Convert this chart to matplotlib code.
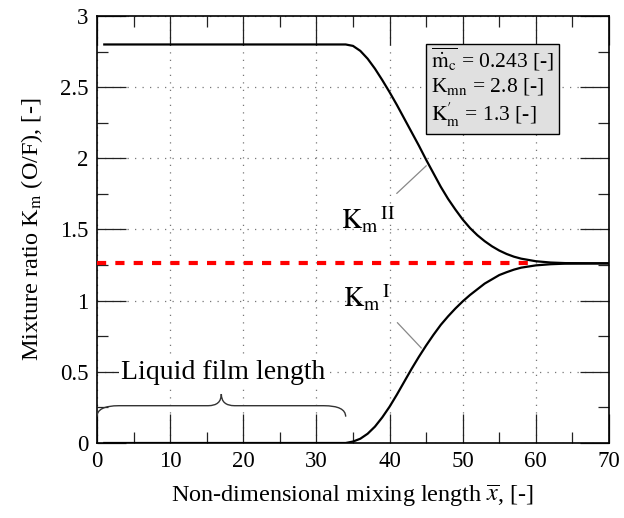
import numpy as np
import matplotlib
matplotlib.use("Agg")
import matplotlib.pyplot as plt
from matplotlib.path import Path
from matplotlib.patches import PathPatch

plt.rcParams['font.family'] = ['Liberation Serif', 'DejaVu Serif']
plt.rcParams['mathtext.fontset'] = 'stix'

# Km^II : mixture ratio from the upper branch
x_upper = [1, 34, 35, 36, 37, 38, 39, 40, 41, 42, 43, 44, 45, 46, 47, 48, 49, 50,
           51, 52, 53, 54, 55, 56, 57, 58, 60, 62, 64, 70]
km_upper = [2.80, 2.80, 2.79, 2.755, 2.70, 2.63, 2.55, 2.465, 2.375, 2.28, 2.185,
            2.09, 1.99, 1.895, 1.80, 1.715, 1.64, 1.57, 1.51, 1.46, 1.418, 1.382,
            1.352, 1.328, 1.309, 1.295, 1.277, 1.268, 1.264, 1.262]

# Km^I : mixture ratio from the lower branch
x_lower = [1, 34, 35, 36, 37, 38, 39, 40, 41, 42, 43, 44, 45, 46, 47, 48, 49, 50,
           51, 52, 53, 54, 55, 56, 57, 58, 60, 62, 64, 70]
km_lower = [0.0, 0.0, 0.01, 0.03, 0.065, 0.115, 0.18, 0.255, 0.34, 0.43, 0.52,
            0.605, 0.685, 0.76, 0.83, 0.89, 0.945, 0.995, 1.04, 1.08, 1.12, 1.15,
            1.18, 1.20, 1.218, 1.232, 1.248, 1.256, 1.260, 1.262]

# equilibrium mixture ratio (red dashed)
x_eq = [0, 60]
km_eq = [1.262, 1.262]

film_start, film_end = 0, 34

fig = plt.figure(figsize=(6.24, 5.18), dpi=100)
ax = fig.add_axes([0.1554, 0.1448, 0.8206, 0.8243])

ax.plot(x_eq, km_eq, color='red', lw=3, dashes=(2.2, 2.2), zorder=3)
ax.plot(x_upper, km_upper, color='black', lw=1.6, zorder=4, solid_joinstyle='round')
ax.plot(x_lower, km_lower, color='black', lw=1.6, zorder=4, solid_joinstyle='round')

ax.set_xlim(0, 70)
ax.set_ylim(0, 3)
ax.set_xticks(np.arange(0, 71, 10))
ax.set_xticks(np.arange(0, 71, 5), minor=True)
ax.set_yticks(np.arange(0, 3.01, 0.5))
ax.set_yticks(np.arange(0, 3.01, 0.25), minor=True)
ax.set_yticklabels(['0', '0.5', '1', '1.5', '2', '2.5', '3'])
ax.grid(True, which='major', color='#777777', lw=0.9, linestyle=(0, (1, 5)))
ax.tick_params(which='both', direction='in', top=True, right=True,
               labelsize=16.5, width=0.9, color='#222222', pad=6)
ax.tick_params(which='major', length=21)
ax.tick_params(which='minor', length=8)
for sp in ax.spines.values():
    sp.set_linewidth(1.2)

ax.set_xlabel(r'Non-dimensional mixing length $\overline{x}$, [-]', fontsize=17.5, labelpad=8)
ax.set_ylabel(r'Mixture ratio K$_\mathrm{m}$ (O/F), [-]', fontsize=17.5, labelpad=11)

# leader lines and branch labels
ax.annotate('', xy=(45.3, np.interp(45.3, x_upper, km_upper)), xytext=(40.7, 1.74),
            arrowprops=dict(arrowstyle='-', color='#888888', lw=0.9))
ax.text(33.4, 1.50, r'$\mathrm{K_m}^{\,\mathrm{II}}$', fontsize=20, va='baseline')
ax.annotate('', xy=(44.6, np.interp(44.6, x_lower, km_lower)), xytext=(40.8, 0.86),
            arrowprops=dict(arrowstyle='-', color='#888888', lw=0.9))
ax.text(33.6, 0.955, r'$\mathrm{K_m}^{\,\mathrm{I}}$', fontsize=20, va='baseline')

# curly brace for the liquid film
yb, d, tip = 0.262, 0.077, 0.082
xm = 0.5 * (film_start + film_end)
verts = [(film_start, yb - d), (film_start, yb), (film_start + 3, yb),
         (xm - 1.8, yb), (xm, yb), (xm, yb + tip),
         (xm, yb), (xm + 1.8, yb),
         (film_end - 3, yb), (film_end, yb), (film_end, yb - d)]
codes = [Path.MOVETO, Path.CURVE3, Path.CURVE3,
         Path.LINETO, Path.CURVE3, Path.CURVE3,
         Path.CURVE3, Path.CURVE3,
         Path.LINETO, Path.CURVE3, Path.CURVE3]
ax.add_patch(PathPatch(Path(verts, codes), fc='none', ec='#333333', lw=1.0, zorder=5))
ax.text(xm + 0.2, 0.448, 'Liquid film length', fontsize=20, ha='center', va='baseline',
        bbox=dict(fc='white', ec='none', pad=1))

box_text = (r'$\overline{\dot{\mathrm{m}}_\mathrm{c}}$ = 0.243 [-]' + '\n'
            + r'K$_\mathrm{mn}$ = 2.8 [-]' + '\n'
            + r'$\mathrm{K}^{\prime}_\mathrm{m}$ = 1.3 [-]')
ax.text(0.652, 0.93, box_text, transform=ax.transAxes, fontsize=15.5,
        va='top', ha='left', linespacing=1.2, zorder=6,
        bbox=dict(boxstyle='square,pad=0.22', fc='#e0e0e0', ec='black', lw=1.0))

fig.savefig('out.png', dpi=100)
